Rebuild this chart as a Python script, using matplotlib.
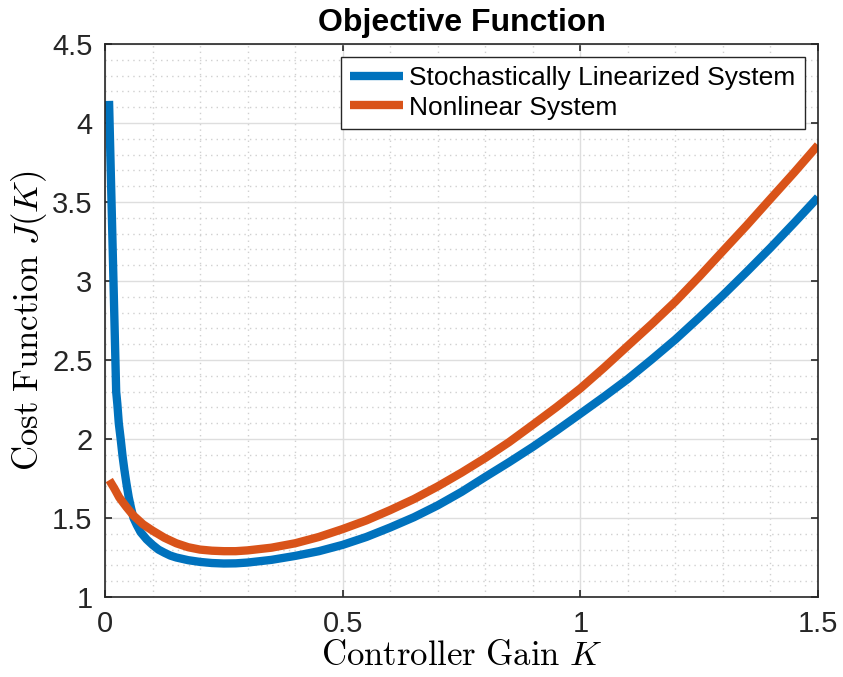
import matplotlib
matplotlib.use("Agg")
import matplotlib.pyplot as plt
from matplotlib.ticker import MultipleLocator, FuncFormatter

# controller gain samples and cost values
k_lin = [0.0085, 0.0235, 0.026, 0.029, 0.033, 0.037, 0.041, 0.045, 0.05, 0.055, 0.06,
         0.067, 0.075, 0.0875, 0.1, 0.1125, 0.125, 0.1375, 0.15, 0.175, 0.2, 0.225,
         0.25, 0.275, 0.3, 0.35, 0.4, 0.45, 0.5, 0.55, 0.6, 0.65, 0.7, 0.75, 0.8,
         0.85, 0.9, 0.95, 1.0, 1.05, 1.1, 1.15, 1.2, 1.25, 1.3, 1.35, 1.4, 1.45, 1.5]
j_lin = [4.14, 2.30, 2.22, 2.10, 2.00, 1.89, 1.80, 1.72, 1.63, 1.56, 1.50,
         1.455, 1.41, 1.365, 1.33, 1.30, 1.28, 1.262, 1.25, 1.233, 1.222, 1.215,
         1.212, 1.213, 1.218, 1.235, 1.26, 1.29, 1.33, 1.38, 1.44, 1.505, 1.58, 1.665, 1.76,
         1.853, 1.95, 2.053, 2.16, 2.268, 2.38, 2.503, 2.63, 2.768, 2.91, 3.058, 3.21, 3.368, 3.53]

k_non = [0.009, 0.02, 0.03, 0.045, 0.06, 0.08, 0.1, 0.125, 0.15, 0.175, 0.2, 0.225,
         0.25, 0.275, 0.3, 0.35, 0.4, 0.45, 0.5, 0.55, 0.6, 0.65, 0.7, 0.75, 0.8,
         0.85, 0.9, 0.95, 1.0, 1.05, 1.1, 1.15, 1.2, 1.25, 1.3, 1.35, 1.4, 1.45, 1.5]
j_non = [1.74, 1.685, 1.63, 1.57, 1.515, 1.46, 1.42, 1.375, 1.34, 1.315, 1.30, 1.293,
         1.29, 1.29, 1.295, 1.312, 1.34, 1.38, 1.43, 1.485, 1.55, 1.62, 1.70, 1.787, 1.88,
         1.98, 2.09, 2.202, 2.32, 2.452, 2.59, 2.727, 2.87, 3.027, 3.19, 3.352, 3.52, 3.687, 3.86]

labels = ["Stochastically Linearized System", "Nonlinear System"]
colors = ["#0072BD", "#D95319"]

plt.rcParams["font.family"] = ["Liberation Sans", "DejaVu Sans"]
plt.rcParams["mathtext.fontset"] = "cm"

fig = plt.figure(figsize=(8.43, 6.77), dpi=100)
ax = fig.add_axes([105 / 843, 1 - 597 / 677, 713 / 843, 553 / 677])

ax.plot(k_lin, j_lin, color=colors[0], lw=6, solid_capstyle="butt", solid_joinstyle="round", label=labels[0])
ax.plot(k_non, j_non, color=colors[1], lw=6, solid_capstyle="butt", solid_joinstyle="round", label=labels[1])

ax.set_xlim(0, 1.5)
ax.set_ylim(1, 4.5)
ax.xaxis.set_major_locator(MultipleLocator(0.5))
ax.yaxis.set_major_locator(MultipleLocator(0.5))
ax.xaxis.set_minor_locator(MultipleLocator(0.1))
ax.yaxis.set_minor_locator(MultipleLocator(0.1))
ax.xaxis.set_major_formatter(FuncFormatter(lambda v, p: f"{v:g}"))
ax.yaxis.set_major_formatter(FuncFormatter(lambda v, p: f"{v:g}"))

ax.grid(True, which="major", color="#dedede", lw=1.0)
ax.grid(True, which="minor", color="#d0d0d0", lw=1.0, ls=(0, (1, 3)))
ax.set_axisbelow(True)

ax.tick_params(which="major", direction="in", length=5, width=1.2, color="#262626",
               labelsize=21, top=True, right=True, pad=9, labelcolor="#262626")
ax.tick_params(which="minor", length=0, top=True, right=True)
for s in ax.spines.values():
    s.set_color("#262626")
    s.set_linewidth(1.2)

ax.set_title("Objective Function", fontsize=23, fontweight="bold", pad=9)
ax.set_xlabel(r"$\mathrm{Controller\ Gain}\ K$", fontsize=25, labelpad=1)
ax.set_ylabel(r"$\mathrm{Cost\ Function}\ J(K)$", fontsize=25, labelpad=2)

leg = ax.legend(loc="upper right", fontsize=19, fancybox=False, framealpha=1,
                edgecolor="#262626", handlelength=2.0, handletextpad=0.25,
                borderpad=0.35, labelspacing=0.2, borderaxespad=0.5)
leg.get_frame().set_linewidth(1.0)

plt.savefig("out.png", dpi=100)
plt.close()
